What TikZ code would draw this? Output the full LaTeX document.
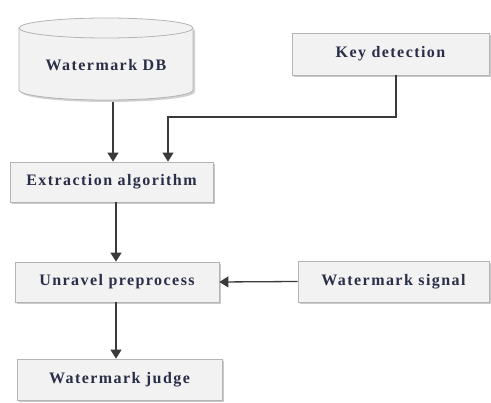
\documentclass[tikz,border=0pt]{standalone}
\usepackage{fontspec}
\setmainfont{Liberation Serif}
\usetikzlibrary{arrows.meta,shadows}
\definecolor{boxfill}{HTML}{F2F2F2}
\definecolor{boxline}{HTML}{B4B4B4}
\definecolor{txt}{HTML}{2A2E48}
\definecolor{wire}{HTML}{3A3A3A}
\tikzset{
  lbl/.style={text=txt,
    font=\fontsize{16}{18}\selectfont\bfseries\addfontfeatures{LetterSpace=9}},
  procbox/.style={lbl, draw=boxline, fill=boxfill, line width=0.8pt,
    drop shadow={shadow xshift=1.5pt, shadow yshift=-2pt, fill=black!35, opacity=0.6},
    inner sep=0pt},
  arr/.style={draw=wire, line width=1.3pt, -{Triangle[width=11pt,length=9pt]}},
}
\begin{document}
\begin{tikzpicture}[x=1pt,y=-1pt]
  \useasboundingbox (0,0) rectangle (491,403);
  % database cylinder: shadow, body, then the front rim of the top
  \fill[black!30, opacity=0.6] (21,30) -- (21,92)
    arc[start angle=180, end angle=0, x radius=87, y radius=10] -- (195,30) -- cycle;
  \draw[draw=boxline, fill=boxfill, line width=0.8pt]
    (19,28) -- (19,90) arc[start angle=180, end angle=0, x radius=87, y radius=10]
    -- (193,28) arc[start angle=0, end angle=-180, x radius=87, y radius=10] -- cycle;
  \draw[draw=boxline, line width=0.8pt]
    (19,28) arc[start angle=180, end angle=0, x radius=87, y radius=10];
  \node[lbl] (db) at (106,65) {Watermark DB};
  \coordinate (dbbot) at (113,102);

  % process boxes
  \node[procbox, minimum width=197pt, minimum height=42pt] (key) at (390.5,54) {Key detection};
  \node[procbox, minimum width=203pt, minimum height=40pt] (ext) at (111.5,182) {Extraction algorithm};
  \node[procbox, minimum width=204pt, minimum height=40pt] (unr) at (117,282) {Unravel preprocess};
  \node[procbox, minimum width=191pt, minimum height=41pt] (sig) at (393.5,281.5) {Watermark signal};
  \node[procbox, minimum width=205pt, minimum height=41pt] (jud) at (119.5,379.5) {Watermark judge};

  % connectors
  \coordinate (bend) at (168,117);
  \draw[arr] (dbbot) -- (dbbot |- ext.north);
  \draw[arr] ([xshift=5.5pt]key.south) |- (bend) -- (bend |- ext.north);
  \draw[arr] (ext.south -| 116,0) -- (unr.north -| 116,0);
  \draw[arr] (sig.west) -- (unr.east);
  \draw[arr] (unr.south -| 116,0) -- (jud.north -| 116,0);
\end{tikzpicture}
\end{document}
